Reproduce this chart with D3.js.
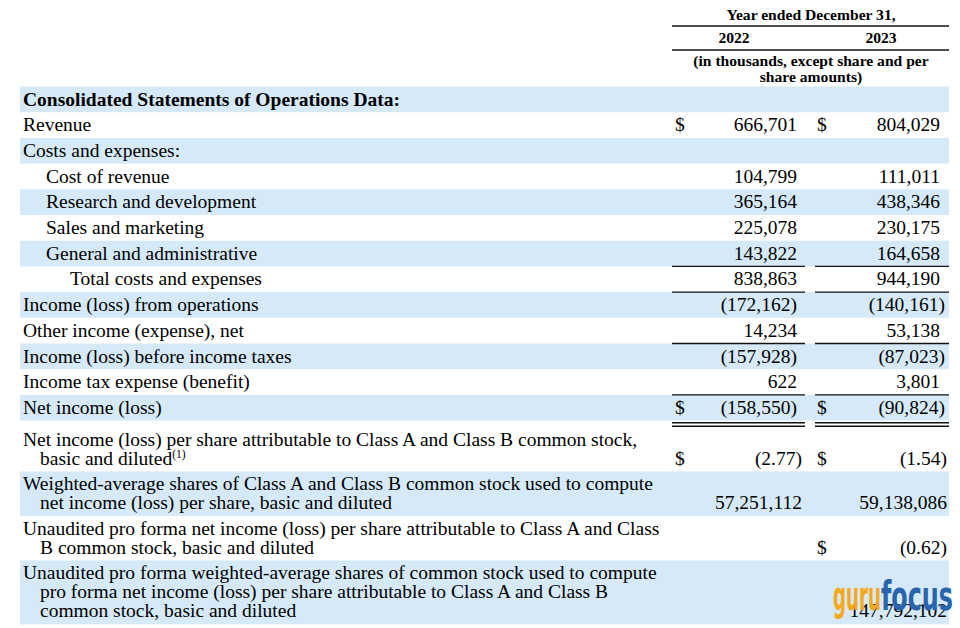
<!DOCTYPE html>
<html>
<head>
<meta charset="utf-8">
<script src="https://cdn.jsdelivr.net/npm/d3@7"></script>
<style>
  html, body { margin: 0; padding: 0; background: #ffffff; }
  svg { display: block; }
</style>
</head>
<body>
<div id="chart"></div>
<script>
// ---------- DATA ----------
const headerTitle = "Year ended December 31,";
const years = ["2022", "2023"];
const headerNote = ["(in thousands, except share and per", "share amounts)"];

const labels = [
  "Consolidated Statements of Operations Data:",
  "Revenue",
  "Costs and expenses:",
  "Cost of revenue",
  "Research and development",
  "Sales and marketing",
  "General and administrative",
  "Total costs and expenses",
  "Income (loss) from operations",
  "Other income (expense), net",
  "Income (loss) before income taxes",
  "Income tax expense (benefit)",
  "Net income (loss)",
  "Net income (loss) per share attributable to Class A and Class B common stock,|basic and diluted",
  "Weighted-average shares of Class A and Class B common stock used to compute|net income (loss) per share, basic and diluted",
  "Unaudited pro forma net income (loss) per share attributable to Class A and Class|B common stock, basic and diluted",
  "Unaudited pro forma weighted-average shares of common stock used to compute|pro forma net income (loss) per share attributable to Class A and Class B|common stock, basic and diluted"
];
const levels = [0, 0, 0, 1, 1, 1, 1, 2, 0, 0, 0, 0, 0, 0, 0, 0, 0];
const boldRows = [0];
const footnoteRows = [13];   // "(1)"
const values2022 = [null, 666701, null, 104799, 365164, 225078, 143822, 838863, -172162, 14234, -157928, 622, -158550, -2.77, 57251112, null, null];
const values2023 = [null, 804029, null, 111011, 438346, 230175, 164658, 944190, -140161, 53138, -87023, 3801, -90824, -1.54, 59138086, -0.62, 147792102];
const dollar2022 = [1, 12, 13];
const dollar2023 = [1, 12, 13, 15];
const perShareRows = [13, 15];
const singleRuleRows = [6, 7, 9, 11];
const doubleRuleRows = [12];

// ---------- LAYOUT ----------
const W = 960, H = 628;
const serif = "'Liberation Serif', 'Times New Roman', serif";
const bodySize = 19.5;
const blue = "#d5e9f8";
const ink = "#000000";

const svg = d3.select("#chart").append("svg")
  .attr("width", W).attr("height", H)
  .attr("viewBox", `0 0 ${W} ${H}`);

const rows = labels.map((t, i) => ({
  i, lines: t.split("|"), level: levels[i],
  v22: values2022[i], v23: values2023[i]
}));

// row heights (by number of text lines)
const heightOf = r => r.lines.length === 1 ? 25.7 : (r.lines.length === 2 ? 44.5 : 64);
let acc = 0;
rows.forEach(r => {
  r.y0 = acc;
  acc += heightOf(r);
  if (doubleRuleRows.includes(r.i)) acc += 6.3;
  r.y1 = r.y0 + heightOf(r);
});
const yScale = d3.scaleLinear().domain([0, acc]).range([86.5, 86.5 + acc]);

const indentX = d3.scaleOrdinal().domain([0, 1, 2]).range([23, 46, 70]);
const contX = 40;
const colRange = d3.scaleOrdinal().domain(years).range([[672, 805], [815, 949]]);
const dollarX = d3.scaleOrdinal().domain(years).range([675, 817]);
const lineH = 19;

// backgrounds
svg.append("g").selectAll("rect")
  .data(rows.filter(r => r.i % 2 === 0))
  .join("rect")
  .attr("x", 20).attr("width", 929)
  .attr("y", r => yScale(r.y0))
  .attr("height", r => yScale(r.y1) - yScale(r.y0))
  .attr("fill", blue);

// header
const hdr = svg.append("g").attr("font-family", serif).attr("font-weight", "bold")
  .attr("font-size", 15.6).attr("fill", ink).attr("text-anchor", "middle");
hdr.append("text").attr("x", 811).attr("y", 20).text(headerTitle);
hdr.selectAll("text.yr").data(years).join("text").attr("class", "yr")
  .attr("x", (d, i) => [734, 881][i]).attr("y", 43).text(d => d);
hdr.selectAll("text.note").data(headerNote).join("text").attr("class", "note")
  .attr("x", 811).attr("y", (d, i) => 66 + i * 15.5).text(d => d);
svg.append("g").selectAll("line").data([26, 50]).join("line")
  .attr("x1", 672).attr("x2", 949).attr("y1", d => d).attr("y2", d => d)
  .attr("stroke", "#111").attr("stroke-width", 1.4);

// labels
const lab = svg.append("g").attr("font-family", serif).attr("font-size", bodySize).attr("fill", ink);
rows.forEach(r => {
  r.lines.forEach((ln, k) => {
    const t = lab.append("text")
      .attr("x", k === 0 ? indentX(r.level) : contX)
      .attr("y", yScale(r.y0) + 19 + k * lineH)
      .attr("font-weight", boldRows.includes(r.i) ? "bold" : "normal")
      .text(ln);
    if (k === r.lines.length - 1 && footnoteRows.includes(r.i)) {
      t.append("tspan").attr("font-size", 11.5).attr("dy", -7).text("(1)");
    }
  });
});

// values
const fmtInt = d3.format(",");
const fmtPS = d3.format(".2f");
function fmt(v, i) {
  const s = perShareRows.includes(i) ? fmtPS(Math.abs(v)) : fmtInt(Math.abs(v));
  return v < 0 ? `(${s})` : s;
}
const lower = i => i >= 13;
function valueX(year, v, i) {
  if (year === "2022") return lower(i) ? 802 : 797;
  if (lower(i)) return 947;
  return v < 0 ? 945 : 940;
}
const vals = svg.append("g").attr("font-family", serif).attr("font-size", bodySize).attr("fill", ink);
years.forEach(year => {
  const key = year === "2022" ? "v22" : "v23";
  const dollars = year === "2022" ? dollar2022 : dollar2023;
  const data = rows.filter(r => r[key] !== null);
  vals.selectAll(null).data(data).join("text")
    .attr("text-anchor", "end")
    .attr("x", r => valueX(year, r[key], r.i))
    .attr("y", r => yScale(r.y0) + 19 + (r.lines.length - 1) * lineH)
    .text(r => fmt(r[key], r.i));
  vals.selectAll(null).data(rows.filter(r => dollars.includes(r.i))).join("text")
    .attr("x", dollarX(year))
    .attr("y", r => yScale(r.y0) + 19 + (r.lines.length - 1) * lineH)
    .text("$");
});

// rules
const rules = svg.append("g").attr("stroke", "#111").attr("stroke-width", 1.4);
years.forEach(year => {
  const [a, b] = colRange(year);
  rules.selectAll(null).data(rows.filter(r => singleRuleRows.includes(r.i))).join("line")
    .attr("x1", a).attr("x2", b)
    .attr("y1", r => yScale(r.y1)).attr("y2", r => yScale(r.y1));
  rows.filter(r => doubleRuleRows.includes(r.i)).forEach(r => {
    [2.2, 5.6].forEach(off => {
      rules.append("line").attr("x1", a).attr("x2", b)
        .attr("y1", yScale(r.y1) + off).attr("y2", yScale(r.y1) + off);
    });
  });
});

// watermark
const wm = svg.append("g").attr("font-family", "'DejaVu Sans Condensed', 'Liberation Sans Narrow', sans-serif")
  .attr("font-weight", "bold").attr("font-size", 40);
wm.append("text").attr("x", 833).attr("y", 610).attr("fill", "#f5a81c")
  .attr("textLength", 48).attr("lengthAdjust", "spacingAndGlyphs").text("guru");
wm.append("text").attr("x", 881).attr("y", 610).attr("fill", "#2a64ad")
  .attr("textLength", 72).attr("lengthAdjust", "spacingAndGlyphs").text("focus");
</script>
</body>
</html>
